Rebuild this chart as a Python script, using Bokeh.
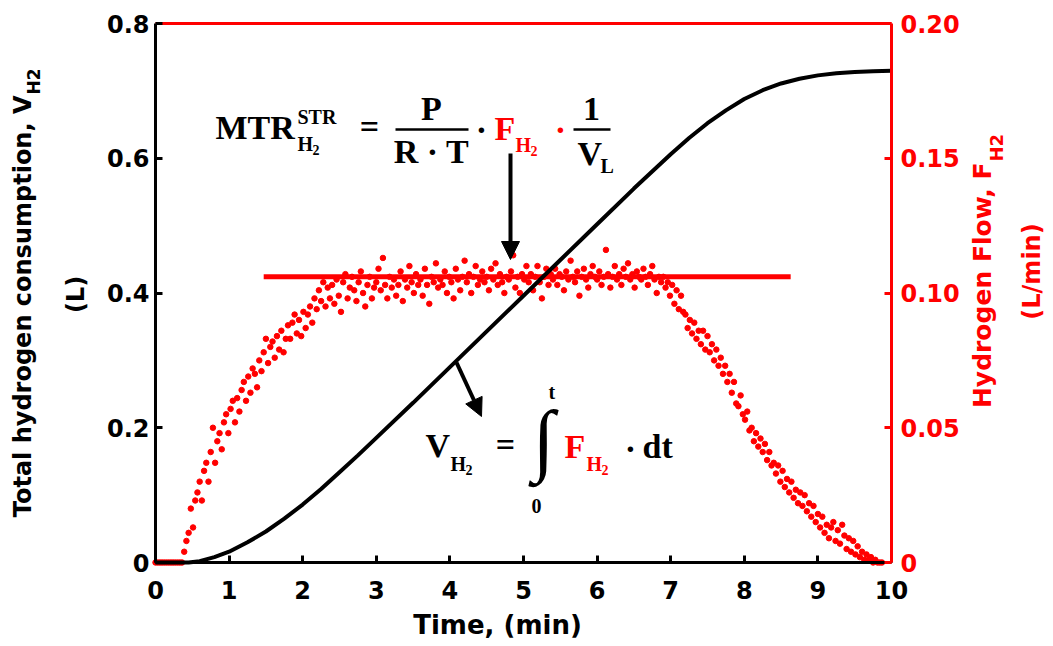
import math
from bokeh.plotting import figure
from bokeh.models import (LinearAxis, Range1d, FixedTicker, Label, Arrow,
                          NormalHead, BoxAnnotation)
from bokeh.embed import file_html
from bokeh.resources import INLINE

# ---------------- data ----------------
# cumulative hydrogen consumption (black curve, left axis, L)
vol_time = [0, 0.45, 0.6, 0.8, 1.0, 1.25, 1.5, 1.75, 2.0, 2.25, 2.5, 2.75, 3.0,
            3.5, 4.0, 4.5, 5.0, 5.5, 6.0, 6.5, 7.0, 7.25, 7.5, 7.75, 8.0, 8.25,
            8.5, 8.75, 9.0, 9.25, 9.5, 9.75, 10.0]
vol_L = [0, 0, 0.002, 0.008, 0.016, 0.030, 0.046, 0.065, 0.086, 0.109, 0.134,
         0.159, 0.185, 0.237, 0.290, 0.343, 0.396, 0.449, 0.502, 0.555, 0.606,
         0.630, 0.652, 0.671, 0.688, 0.701, 0.711, 0.718, 0.723, 0.726, 0.728,
         0.729, 0.730]

# hydrogen flow samples (red dots, right axis, L/min), one every 0.03 min
flow_F = [
    0, 0, 0, 0, 0, 0, 0, 0, 0, 0,
    0, 0, 0, 0.004, 0.008, 0.011, 0.020, 0.013, 0.023, 0.026,
    0.030, 0.023, 0.034, 0.037, 0.030, 0.041, 0.050, 0.037, 0.045, 0.048,
    0.042, 0.052, 0.055, 0.048, 0.057, 0.060, 0.052, 0.061, 0.056, 0.064,
    0.067, 0.060, 0.069, 0.063, 0.072, 0.070, 0.065, 0.075, 0.071, 0.078,
    0.083, 0.074, 0.080, 0.082, 0.076, 0.084, 0.079, 0.086, 0.078, 0.083,
    0.088, 0.083, 0.089, 0.092, 0.085, 0.090, 0.084, 0.093, 0.087, 0.092,
    0.095, 0.089, 0.098, 0.094, 0.101, 0.097, 0.104, 0.095, 0.102, 0.098,
    0.103, 0.096, 0.105, 0.099, 0.093, 0.104, 0.107, 0.098, 0.102, 0.106,
    0.101, 0.097, 0.104, 0.108, 0.100, 0.095, 0.103, 0.106, 0.098, 0.102,
    0.104, 0.109, 0.101, 0.113, 0.103, 0.098, 0.106, 0.102, 0.105, 0.099,
    0.103, 0.108, 0.097, 0.105, 0.102, 0.110, 0.104, 0.100, 0.107, 0.103,
    0.105, 0.099, 0.109, 0.103, 0.096, 0.106, 0.104, 0.111, 0.102, 0.105,
    0.103, 0.108, 0.100, 0.106, 0.104, 0.098, 0.109, 0.105, 0.101, 0.106,
    0.112, 0.104, 0.107, 0.100, 0.106, 0.110, 0.103, 0.105, 0.108, 0.104,
    0.106, 0.101, 0.109, 0.105, 0.111, 0.103, 0.107, 0.104, 0.100, 0.106,
    0.105, 0.108, 0.114, 0.102, 0.106, 0.100, 0.107, 0.105, 0.110, 0.104,
    0.107, 0.101, 0.106, 0.110, 0.104, 0.098, 0.106, 0.109, 0.103, 0.107,
    0.105, 0.109, 0.103, 0.107, 0.106, 0.101, 0.108, 0.105, 0.112, 0.106,
    0.104, 0.108, 0.099, 0.106, 0.109, 0.105, 0.102, 0.107, 0.110, 0.106,
    0.105, 0.108, 0.103, 0.106, 0.116, 0.107, 0.102, 0.106, 0.110, 0.105,
    0.107, 0.103, 0.109, 0.106, 0.111, 0.105, 0.107, 0.102, 0.108, 0.106,
    0.105, 0.109, 0.106, 0.103, 0.107, 0.110, 0.105, 0.100, 0.106, 0.104,
    0.106, 0.102, 0.104, 0.099, 0.103, 0.096, 0.101, 0.094, 0.099, 0.093,
    0.092, 0.087, 0.090, 0.085, 0.089, 0.083, 0.086, 0.081, 0.086, 0.079,
    0.084, 0.078, 0.081, 0.075, 0.079, 0.073, 0.076, 0.070, 0.073, 0.067,
    0.070, 0.063, 0.067, 0.059, 0.058, 0.062, 0.055, 0.053, 0.056, 0.049,
    0.050, 0.045, 0.048, 0.043, 0.046, 0.041, 0.044, 0.038, 0.041, 0.036,
    0.037, 0.033, 0.036, 0.030, 0.034, 0.028, 0.031, 0.026, 0.030, 0.024,
    0.027, 0.022, 0.026, 0.021, 0.025, 0.019, 0.022, 0.017, 0.021, 0.015,
    0.018, 0.013, 0.017, 0.011, 0.014, 0.009, 0.013, 0.015, 0.008, 0.012,
    0.007, 0.014, 0.010, 0.005, 0.009, 0.004, 0.008, 0.003, 0.006, 0.002,
    0.004, 0.001, 0.003, 0.001, 0.002, 0.000, 0.001, 0.000, 0.000, 0.000,
]
flow_time = [round(0.03 * i, 2) for i in range(len(flow_F))]

# average (steady) flow used for MTR
mean_flow_time = [1.47, 8.63]
mean_flow_F = [0.106, 0.106]

x_ticks = [0, 1, 2, 3, 4, 5, 6, 7, 8, 9, 10]
left_ticks = [0, 0.2, 0.4, 0.6, 0.8]
left_tick_labels = ["0", "0.2", "0.4", "0.6", "0.8"]
right_ticks = [0, 0.05, 0.1, 0.15, 0.2]
right_tick_labels = ["0", "0.05", "0.10", "0.15", "0.20"]

# ---------------- layout ----------------
X0, X1, Y0, Y1, F0, F1 = 0, 10, 0, 0.8, 0, 0.2
CANVAS_W, CANVAS_H = 1050, 644
AX_L, AX_R, AX_T, AX_B = 155, 891, 23, 562   # pixel box of the axes

sx = (X1 - X0) / (AX_R - AX_L)
sy = (Y1 - Y0) / (AX_B - AX_T)
x_range = Range1d(X0 - AX_L * sx, X1 + (CANVAS_W - AX_R) * sx)
y_range = Range1d(Y0 - (CANVAS_H - AX_B) * sy, Y1 + AX_T * sy)
fscale = (F1 - F0) / (Y1 - Y0)
flow_range = Range1d(F0 + (y_range.start - Y0) * fscale,
                     F0 + (y_range.end - Y0) * fscale)

p = figure(frame_width=CANVAS_W, frame_height=CANVAS_H, min_border=0,
           x_range=x_range, y_range=y_range,
           output_backend="svg", toolbar_location=None)
p.extra_y_ranges = {"flow": flow_range}
p.background_fill_color = "white"
p.border_fill_color = "white"
p.outline_line_color = None
p.xgrid.visible = False
p.ygrid.visible = False

TICK_FONT = "DejaVu Sans"


def style_axis(ax, color, ticks, labels, standoff):
    ax.ticker = FixedTicker(ticks=ticks)
    if labels:
        ax.major_label_overrides = {t: l for t, l in zip(ticks, labels)}
    ax.axis_line_color = color
    ax.axis_line_width = 3
    ax.major_tick_line_color = color
    ax.major_tick_line_width = 3
    ax.major_tick_in = 7
    ax.major_tick_out = 0
    ax.minor_tick_line_color = None
    ax.major_label_text_color = color
    ax.major_label_text_font = TICK_FONT
    ax.major_label_text_font_style = "bold"
    ax.major_label_text_font_size = "24px"
    ax.major_label_standoff = standoff


xax = p.xaxis[0]
style_axis(xax, "black", x_ticks, [str(t) for t in x_ticks], 18)
xax.fixed_location = Y0
xax.bounds = (X0, X1)

yax = p.yaxis[0]
style_axis(yax, "black", left_ticks, left_tick_labels, 6)
yax.fixed_location = X0
yax.bounds = (Y0, Y1)

top_ax = LinearAxis(fixed_location=Y1, bounds=(X0, X1))
style_axis(top_ax, "red", [], [], 0)
p.add_layout(top_ax, "above")

right_axis = LinearAxis(y_range_name="flow", fixed_location=X1,
                        bounds=(F0, F1))
style_axis(right_axis, "red", right_ticks, right_tick_labels, 9)
p.add_layout(right_axis, "right")

# ---------------- marks ----------------
p.scatter(flow_time, flow_F, y_range_name="flow", size=5.5,
          fill_color="red", line_color="red")
p.line(mean_flow_time, mean_flow_F, y_range_name="flow",
       line_color="red", line_width=5)
p.line(vol_time, vol_L, line_color="black", line_width=4)


# ---------------- annotations (positions in canvas pixels) ----------------
def tx(px):
    return X0 + (px - AX_L) * sx


def ty(py):
    return Y0 + (AX_B - py) * sy


EQ_FONT = "Liberation Serif"
MID = 0.34   # baseline -> middle of the em box, in em


def put(text, px, py, size, color="black", align="left",
        baseline="alphabetic", font=EQ_FONT, style="bold", angle=0.0):
    if baseline == "alphabetic":
        if angle:
            px -= MID * size
        else:
            py -= MID * size
        baseline = "middle"
    p.add_layout(Label(x=tx(px), y=ty(py), text=text, text_font=font,
                       text_font_size=f"{size}px", text_font_style=style,
                       text_color=color, text_align=align,
                       text_baseline=baseline, angle=angle))


def bar(x_left, x_right, py, thick=2.5):
    p.add_layout(BoxAnnotation(left=tx(x_left), right=tx(x_right),
                               top=ty(py - thick / 2), bottom=ty(py + thick / 2),
                               fill_color="black", fill_alpha=1.0,
                               line_color=None))


# axis titles
up = math.pi / 2
put("Time, (min)", 497, 633, 26, font=TICK_FONT, align="center")
put("Total hydrogen consumption, V", 31, 95, 24, font=TICK_FONT,
    align="right", angle=up)
put("H2", 39, 94, 17, font=TICK_FONT, align="left", angle=up)
put("(L)", 75, 294, 24, font=TICK_FONT, align="center", baseline="middle",
    angle=up)
put("Hydrogen Flow, F", 990, 162, 25, color="red", font=TICK_FONT,
    align="right", angle=up)
put("H2", 1002, 161, 18, color="red", font=TICK_FONT, align="left", angle=up)
put("(L/min)", 1031, 271, 24, color="red", font=TICK_FONT, align="center",
    baseline="middle", angle=up)

# equation 1: MTR
put("MTR", 215, 139, 34)
put("STR", 297, 123, 20)
put("H", 297, 150, 20)
put("2", 312, 154, 14)
put("=", 369, 138, 34, align="center")
put("P", 431, 120, 34, align="center")
bar(395, 468, 129)
put("R · T", 431, 163, 34, align="center")
put("·", 481, 141, 34, align="center")
put("F", 494, 140, 34, color="red")
put("H", 515, 151, 20, color="red")
put("2", 530, 155, 14, color="red")
put("·", 560, 141, 34, color="red", align="center")
put("1", 591, 120, 34, align="center")
bar(573, 610, 129)
put("V", 577, 165, 34)
put("L", 600, 172, 20)

# equation 2: V = integral of F
put("V", 425, 457, 34)
put("H", 450, 470, 20)
put("2", 465, 474, 14)
put("=", 505, 456, 34, align="center")
put("∫", 543, 438, 80, font="Liberation Serif", style="normal",
    align="center", baseline="middle")
put("t", 548, 398, 20)
put("0", 531, 512, 20)
put("F", 564, 458, 34, color="red")
put("H", 586, 470, 20, color="red")
put("2", 601, 474, 14, color="red")
put("·", 630, 460, 34, align="center")
put("dt", 642, 458, 34)

# arrows
for (xs, ys, xe, ye) in [(510, 153, 510, 259), (456, 362, 481, 416)]:
    p.add_layout(Arrow(end=NormalHead(size=18, fill_color="black",
                                      line_color="black", line_width=1),
                       x_start=tx(xs), y_start=ty(ys), x_end=tx(xe), y_end=ty(ye),
                       line_color="black", line_width=4))

open("out.html", "w").write(file_html(p, INLINE))
